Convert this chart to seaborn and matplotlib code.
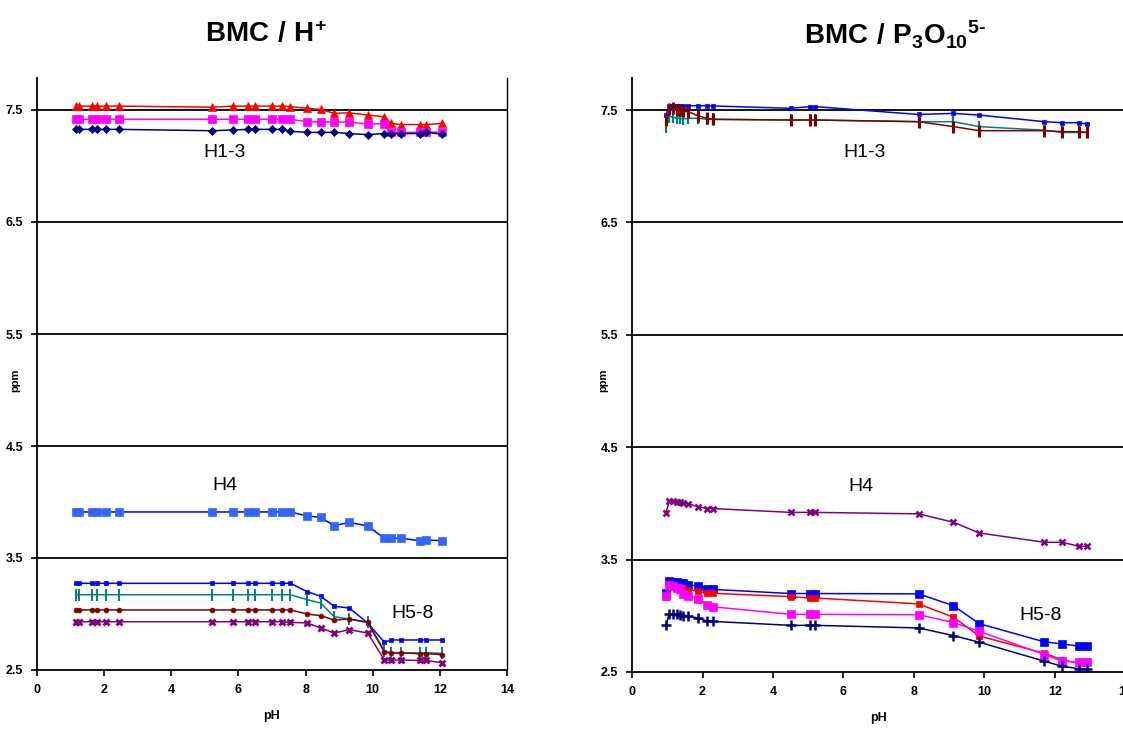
import matplotlib
matplotlib.use("Agg")
import matplotlib.pyplot as plt
import seaborn as sns
import pandas as pd

# ---- data: chemical shifts (ppm) versus pH ----
ph_h = [1.15, 1.25, 1.65, 1.8, 2.05, 2.45, 5.2, 5.85, 6.3, 6.5, 7.0, 7.3, 7.55,
        8.05, 8.45, 8.85, 9.3, 9.85, 10.35, 10.55, 10.85, 11.4, 11.6, 12.05]

h_red = [7.535, 7.535, 7.535, 7.535, 7.535, 7.535, 7.525, 7.535, 7.535, 7.535, 7.535, 7.535, 7.53,
         7.515, 7.505, 7.47, 7.475, 7.455, 7.44, 7.38, 7.37, 7.37, 7.37, 7.38]
h_magenta = [7.417] * 13 + [7.396, 7.392, 7.392, 7.392, 7.375, 7.378, 7.30, 7.30, 7.30, 7.305, 7.30]
h_navy = [7.327] * 6 + [7.315, 7.322, 7.327, 7.327, 7.327, 7.327, 7.31,
                        7.30, 7.30, 7.30, 7.29, 7.28, 7.29, 7.29, 7.29, 7.29, 7.30, 7.285]
h_h4 = [3.911] * 13 + [3.875, 3.863, 3.788, 3.818, 3.786, 3.676, 3.676, 3.676, 3.655, 3.66, 3.655]
h_blue = [3.274] * 13 + [3.199, 3.158, 3.069, 3.054, 2.92, 2.747, 2.768, 2.768, 2.768, 2.768, 2.768]
h_teal = [3.172] * 13 + [3.128, 3.098, 2.976, 2.955, 2.926, 2.672, 2.652, 2.652, 2.652, 2.655, 2.649]
h_darkred = [3.036] * 13 + [3.0, 2.985, 2.946, 2.955, 2.926, 2.658, 2.652, 2.652, 2.646, 2.646, 2.637]
h_purple = [2.931] * 12 + [2.925, 2.92, 2.875, 2.83, 2.86, 2.83, 2.589, 2.589, 2.589, 2.585, 2.585, 2.565]

ph_p = [0.96, 1.06, 1.15, 1.27, 1.36, 1.46, 1.60, 1.88, 2.14, 2.29, 4.51, 5.05, 5.20,
        8.13, 9.12, 9.85, 11.70, 12.21, 12.68, 12.90]

p_blue13 = [7.456, 7.536, 7.538, 7.54, 7.54, 7.538, 7.538, 7.538, 7.538, 7.536, 7.515, 7.53, 7.53,
            7.46, 7.47, 7.455, 7.396, 7.387, 7.387, 7.375]
p_teal13 = [7.352, 7.44, 7.44, 7.426, 7.426, 7.42, 7.426, 7.426, 7.417, 7.417, 7.411, 7.411, 7.411,
            7.396, 7.396, 7.352, 7.32, 7.30, 7.30, 7.30]
p_darkred13 = [7.41, 7.506, 7.515, 7.50, 7.50, 7.49, 7.485, 7.447, 7.426, 7.417, 7.411, 7.411, 7.411,
               7.396, 7.352, 7.316, 7.316, 7.307, 7.307, 7.30]
p_h4 = [3.915, 4.019, 4.02, 4.01, 4.01, 4.005, 3.998, 3.969, 3.954, 3.954, 3.92, 3.92, 3.92,
        3.907, 3.832, 3.737, 3.654, 3.654, 3.618, 3.618]
p_blue = [3.204, 3.307, 3.30, 3.30, 3.295, 3.29, 3.277, 3.262, 3.24, 3.235, 3.198, 3.198, 3.198,
          3.195, 3.09, 2.93, 2.768, 2.75, 2.73, 2.735]
p_red = [3.17, 3.27, 3.27, 3.26, 3.26, 3.25, 3.233, 3.218, 3.20, 3.20, 3.17, 3.158, 3.158,
         3.106, 2.987, 2.82, 2.667, 2.607, 2.577, 2.577]
p_magenta = [3.18, 3.27, 3.265, 3.25, 3.24, 3.19, 3.18, 3.15, 3.10, 3.08, 3.013, 3.013, 3.013,
             3.01, 2.94, 2.862, 2.655, 2.596, 2.587, 2.587]
p_navy = [2.92, 3.02, 3.012, 3.012, 3.006, 3.0, 2.995, 2.98, 2.95, 2.95, 2.915, 2.915, 2.915,
          2.892, 2.824, 2.765, 2.596, 2.55, 2.53, 2.528]

x_ticks = [0, 2, 4, 6, 8, 10, 12, 14]
y_ticks = [2.5, 3.5, 4.5, 5.5, 6.5, 7.5]
y_tick_labels = ["2.5", "3.5", "4.5", "5.5", "6.5", "7.5"]

sns.set_style("white")
plt.rcParams["font.family"] = ["Liberation Sans", "DejaVu Sans"]
plt.rcParams["mathtext.fontset"] = "custom"
plt.rcParams["mathtext.bf"] = "Liberation Sans:bold"
plt.rcParams["mathtext.rm"] = "Liberation Sans:bold"
for key in ("text.color", "axes.labelcolor", "xtick.color", "ytick.color"):
    plt.rcParams[key] = "black"

fig = plt.figure(figsize=(11.23, 7.42), dpi=100)
ax_l = fig.add_axes([37 / 1123, 1 - 670 / 742, 470 / 1123, 592 / 742])
ax_r = fig.add_axes([632 / 1123, 1 - 672 / 742, 493.5 / 1123, 594 / 742])

# (x, y, color, marker, marker face color, marker size, marker edge width)
left_series = [
    (ph_h, h_red, "#FF0000", "^", "#FF0000", 5.5, 0.5),
    (ph_h, h_magenta, "#FF00FF", "s", "#FF00FF", 5.5, 0.5),
    (ph_h, h_navy, "#000080", "D", "#000080", 4.5, 0.5),
    (ph_h, h_h4, "#0000FF", "s", "#3366FF", 5.5, 0.5),
    (ph_h, h_blue, "#0000FF", "s", "#0000FF", 3, 0.5),
    (ph_h, h_teal, "#008080", "|", "#008080", 8, 1.4),
    (ph_h, h_darkred, "#800000", "o", "#800000", 3.5, 0.5),
    (ph_h, h_purple, "#800080", "x", "#800080", 5, 2.0),
]
right_series = [
    (ph_p, p_blue13, "#0000FF", "s", "#0000FF", 3.5, 0.5),
    (ph_p, p_teal13, "#008080", "|", "#008080", 9, 1.6),
    (ph_p, p_darkred13, "#800000", "|", "#800000", 9, 2.2),
    (ph_p, p_h4, "#800080", "x", "#800080", 5, 1.8),
    (ph_p, p_blue, "#0000FF", "s", "#0000FF", 5.5, 0.5),
    (ph_p, p_red, "#FF0000", "s", "#FF0000", 4.5, 0.5),
    (ph_p, p_magenta, "#FF00FF", "s", "#FF00FF", 5.5, 0.5),
    (ph_p, p_navy, "#000080", "+", "#000080", 7, 1.8),
]

for ax, series in ((ax_l, left_series), (ax_r, right_series)):
    for xs, ys, col, mk, mfc, ms, mew in series:
        df = pd.DataFrame({"pH": xs, "ppm": ys})
        sns.lineplot(data=df, x="pH", y="ppm", ax=ax, color=col, linewidth=1.1,
                     marker=mk, markersize=ms, markerfacecolor=mfc,
                     markeredgecolor=mfc, markeredgewidth=mew, zorder=3)

for ax, top in ((ax_l, 7.5 + 32 / 112), (ax_r, 7.5 + 32 / 112.4)):
    ax.set_xlim(0, 14)
    ax.set_ylim(2.5, top)
    ax.set_xticks(x_ticks)
    ax.set_xticklabels([str(t) for t in x_ticks], fontsize=9, fontweight="bold")
    ax.set_yticks(y_ticks)
    ax.set_yticklabels(y_tick_labels, fontsize=9, fontweight="bold")
    ax.tick_params(axis="both", direction="out", length=4, width=1.2, color="black",
                   bottom=True, left=True, pad=6)
    for yv in y_ticks[1:]:
        ax.axhline(yv, color="black", linewidth=1.3, zorder=1)
    ax.spines["top"].set_visible(False)
    for s in ("left", "bottom"):
        ax.spines[s].set_color("black")
        ax.spines[s].set_linewidth(1.3)
    ax.set_xlabel("pH", fontsize=9, fontweight="bold", labelpad=10)
    ax.set_ylabel("")
    ax.set_facecolor("white")

ax_l.spines["right"].set_color("black")
ax_l.spines["right"].set_linewidth(1.0)
ax_r.spines["right"].set_visible(False)

# vertical axis titles, placed in figure pixels left of the tick labels
fig.text(15 / 1123, 1 - 380 / 742, "ppm", fontsize=8, fontweight="bold",
         rotation=90, ha="center", va="center")
fig.text(603 / 1123, 1 - 380 / 742, "ppm", fontsize=8, fontweight="bold",
         rotation=90, ha="center", va="center")

# group labels
for ax, xs in ((ax_l, (5.6, 5.6, 11.2)), (ax_r, (6.6, 6.5, 11.6))):
    ax.text(xs[0], 7.12, "H1-3", fontsize=14, ha="center", va="center", color="black")
    ax.text(xs[1], 4.15, "H4", fontsize=14, ha="center", va="center", color="black")
    ax.text(xs[2], 3.0, "H5-8", fontsize=14, ha="center", va="center", color="black")

fig.text(266 / 1123, 1 - 35 / 742, r"$\mathbf{BMC\ /\ H^{+}}$", fontsize=20,
         ha="center", va="center")
fig.text(895 / 1123, 1 - 35 / 742, r"$\mathbf{BMC\ /\ P_{3}O_{10}{}^{5\text{-}}}$", fontsize=20,
         ha="center", va="center")

fig.savefig("out.png", dpi=100, facecolor="white")
